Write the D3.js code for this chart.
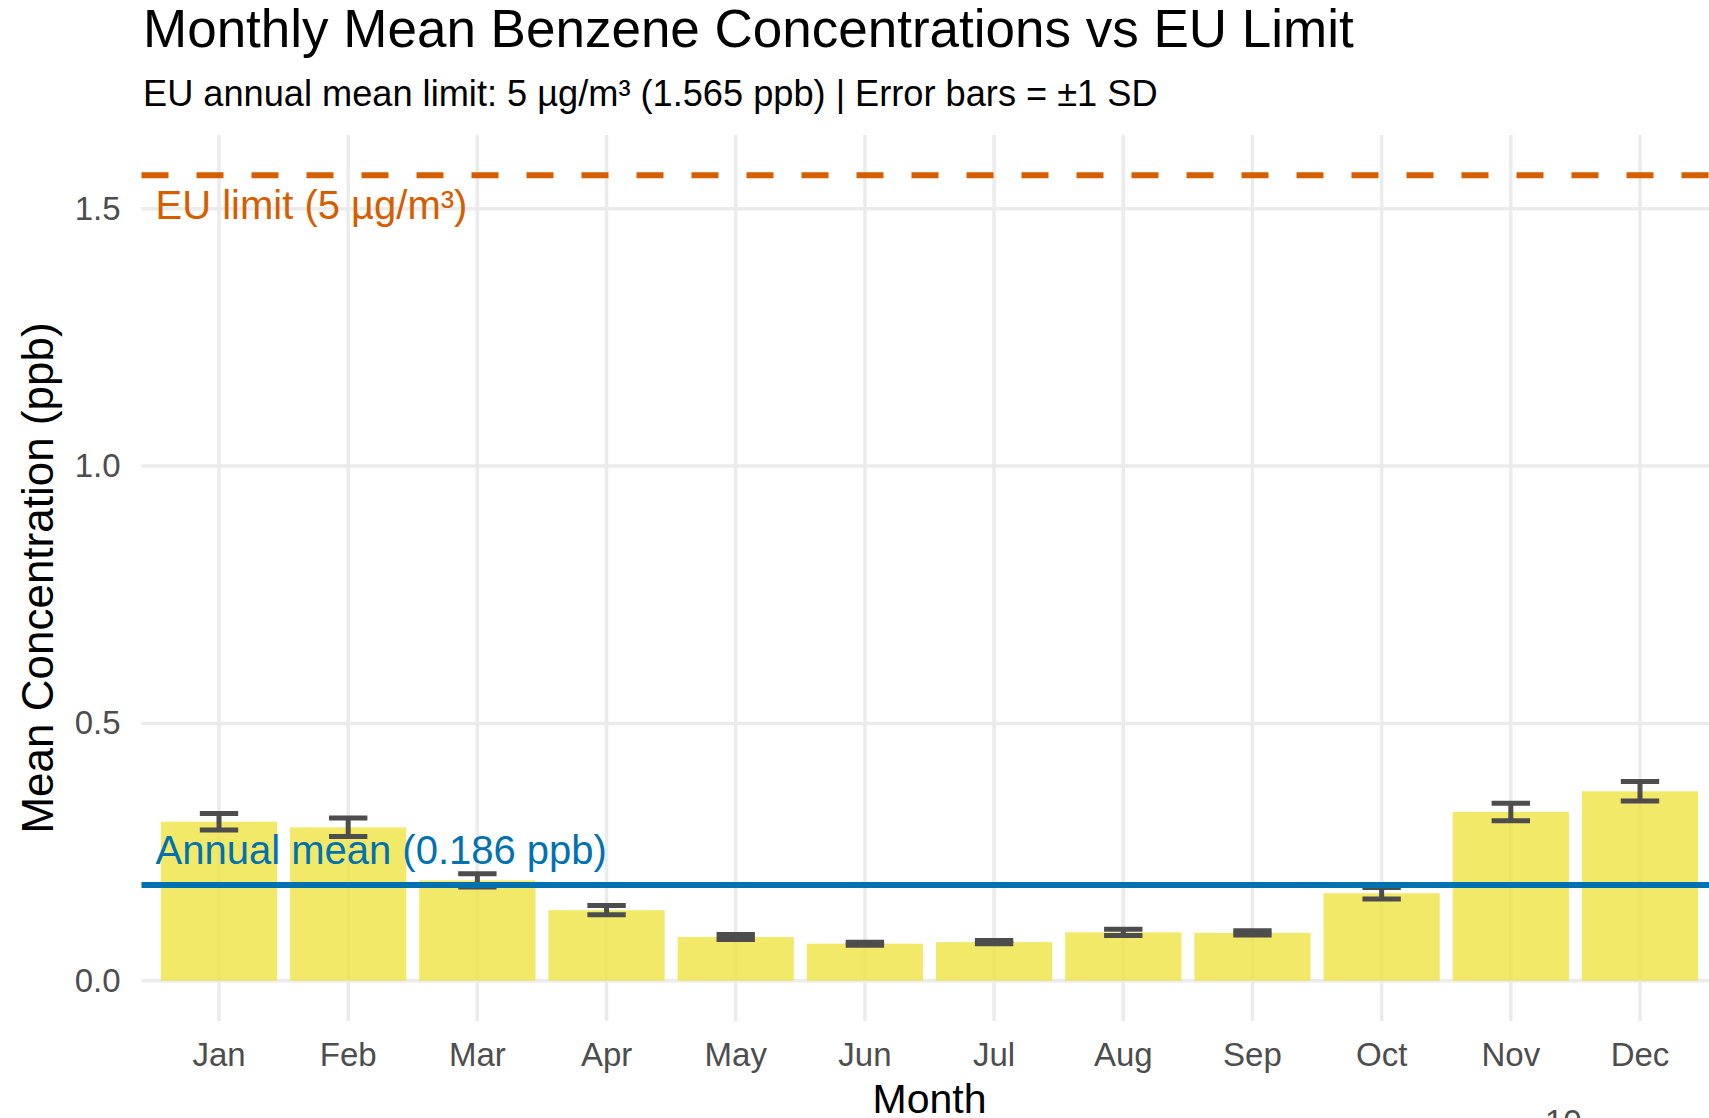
<!DOCTYPE html>
<html>
<head>
<meta charset="utf-8">
<script src="https://cdn.jsdelivr.net/npm/d3@7"></script>
<style>
    body { margin: 0; background: #fff; overflow: hidden; }
    text { font-family: "Liberation Sans", Arial, sans-serif; }
</style>
</head>
<body>
<div class="container"></div>
<script>

var months = ["Jan", "Feb", "Mar", "Apr", "May", "Jun", "Jul", "Aug", "Sep", "Oct", "Nov", "Dec"];
var monthMeans = [0.309, 0.298, 0.195, 0.137, 0.085, 0.072, 0.075, 0.094, 0.093, 0.170, 0.328, 0.368];
var monthSD = [0.016, 0.018, 0.013, 0.009, 0.005, 0.003, 0.003, 0.006, 0.004, 0.011, 0.017, 0.019];
var yTicks = [0.0, 0.5, 1.0, 1.5];

var euLimit = 1.565;
var annualMean = 0.186;

var width = 1709;
var height = 1118;

// panel box (right side runs off the picture like the original)
var panelLeft = 141.5;
var panelRight = 1717.5;
var panelTop = 135;
var panelBottom = 1021;

drawChart();

function drawChart() {
    var svg = d3.select('.container')
        .append('svg')
        .attr('width', width)
        .attr('height', height)

    var x = d3.scaleBand()
        .domain(months)
        .range([panelLeft, panelRight])
        .paddingInner(0.1)
        .paddingOuter(0.15)

    // ggplot style 5% expansion
    var yMax = euLimit;
    var y = d3.scaleLinear()
        .domain([-0.05 * yMax, yMax * 1.05])
        .range([panelBottom, panelTop])

    var grid = svg.append('g').attr('class', 'grid')

    grid.selectAll('line.h')
        .data(yTicks)
        .enter().append('line')
        .attr('class', 'h')
        .attr('x1', panelLeft)
        .attr('x2', panelRight)
        .attr('y1', function (d) { return y(d) })
        .attr('y2', function (d) { return y(d) })
        .attr('stroke', '#EBEBEB')
        .attr('stroke-width', 3.5)

    grid.selectAll('line.v')
        .data(months)
        .enter().append('line')
        .attr('class', 'v')
        .attr('x1', function (d) { return x(d) + x.bandwidth() / 2 })
        .attr('x2', function (d) { return x(d) + x.bandwidth() / 2 })
        .attr('y1', panelTop)
        .attr('y2', panelBottom)
        .attr('stroke', '#EBEBEB')
        .attr('stroke-width', 3.5)

    // bars
    svg.append('g')
        .selectAll('rect')
        .data(months)
        .enter().append('rect')
        .attr('x', function (d) { return x(d) })
        .attr('width', x.bandwidth())
        .attr('y', function (d, i) { return y(monthMeans[i]) })
        .attr('height', function (d, i) { return y(0) - y(monthMeans[i]) })
        .attr('fill', '#F0E442')
        .attr('fill-opacity', 0.8)

    // error bars +-1 SD
    var capW = x.bandwidth() * 0.33;
    var err = svg.append('g')
        .selectAll('g')
        .data(months)
        .enter().append('g')
        .attr('stroke', '#4D4D4D')
        .attr('stroke-width', 5)

    err.append('line')
        .attr('x1', function (d) { return x(d) + x.bandwidth() / 2 })
        .attr('x2', function (d) { return x(d) + x.bandwidth() / 2 })
        .attr('y1', function (d, i) { return y(monthMeans[i] + monthSD[i]) })
        .attr('y2', function (d, i) { return y(monthMeans[i] - monthSD[i]) })
    err.append('line')
        .attr('x1', function (d) { return x(d) + x.bandwidth() / 2 - capW / 2 })
        .attr('x2', function (d) { return x(d) + x.bandwidth() / 2 + capW / 2 })
        .attr('y1', function (d, i) { return y(monthMeans[i] + monthSD[i]) })
        .attr('y2', function (d, i) { return y(monthMeans[i] + monthSD[i]) })
    err.append('line')
        .attr('x1', function (d) { return x(d) + x.bandwidth() / 2 - capW / 2 })
        .attr('x2', function (d) { return x(d) + x.bandwidth() / 2 + capW / 2 })
        .attr('y1', function (d, i) { return y(monthMeans[i] - monthSD[i]) })
        .attr('y2', function (d, i) { return y(monthMeans[i] - monthSD[i]) })

    // reference lines
    svg.append('line')
        .attr('x1', panelLeft)
        .attr('x2', panelRight)
        .attr('y1', y(euLimit))
        .attr('y2', y(euLimit))
        .attr('stroke', '#D55E00')
        .attr('stroke-width', 6)
        .attr('stroke-dasharray', '27,28')

    svg.append('line')
        .attr('x1', panelLeft)
        .attr('x2', panelRight)
        .attr('y1', y(annualMean))
        .attr('y2', y(annualMean))
        .attr('stroke', '#0072B2')
        .attr('stroke-width', 6)

    svg.append('text')
        .attr('x', panelLeft + 14)
        .attr('y', y(euLimit) + 44)
        .attr('font-size', 40)
        .attr('fill', '#D55E00')
        .text('EU limit (5 µg/m³)')

    svg.append('text')
        .attr('x', panelLeft + 14)
        .attr('y', y(annualMean) - 21)
        .attr('font-size', 40)
        .attr('fill', '#0072B2')
        .text('Annual mean (' + annualMean.toFixed(3) + ' ppb)')

    // axes (no domain lines, only labels)
    var yAxis = svg.append('g')
        .attr('transform', 'translate(' + (panelLeft - 8) + ',0)')
        .call(d3.axisLeft(y).tickValues(yTicks).tickFormat(d3.format('.1f')).tickSize(0).tickPadding(13))
    yAxis.select('.domain').remove()
    yAxis.selectAll('text')
        .attr('font-size', 33)
        .attr('fill', '#4D4D4D')
        .style('font-family', '"Liberation Sans", Arial, sans-serif')

    var xAxis = svg.append('g')
        .attr('transform', 'translate(0,' + panelBottom + ')')
        .call(d3.axisBottom(x).tickSize(0).tickPadding(22))
    xAxis.select('.domain').remove()
    xAxis.selectAll('text')
        .attr('font-size', 33)
        .attr('fill', '#4D4D4D')
        .style('font-family', '"Liberation Sans", Arial, sans-serif')

    // titles
    svg.append('text')
        .attr('x', (panelLeft + panelRight) / 2)
        .attr('y', 1113)
        .attr('text-anchor', 'middle')
        .attr('font-size', 41)
        .attr('fill', '#000')
        .text('Month')

    svg.append('text')
        .attr('transform', 'translate(53,' + ((panelTop + panelBottom) / 2) + ') rotate(-90)')
        .attr('text-anchor', 'middle')
        .attr('font-size', 44)
        .attr('fill', '#000')
        .text('Mean Concentration (ppb)')

    svg.append('text')
        .attr('x', 143)
        .attr('y', 47)
        .attr('font-size', 53)
        .attr('fill', '#000')
        .text('Monthly Mean Benzene Concentrations vs EU Limit')

    svg.append('text')
        .attr('x', 143)
        .attr('y', 106)
        .attr('font-size', 36.2)
        .attr('fill', '#000')
        .text('EU annual mean limit: 5 µg/m³ (1.565 ppb) | Error bars = ±1 SD')

    // caption peeking in at the bottom edge
    svg.append('text')
        .attr('x', 1545)
        .attr('y', 1133)
        .attr('font-size', 33)
        .attr('fill', '#4D4D4D')
        .text('10')
}
</script>
</body>
</html>
